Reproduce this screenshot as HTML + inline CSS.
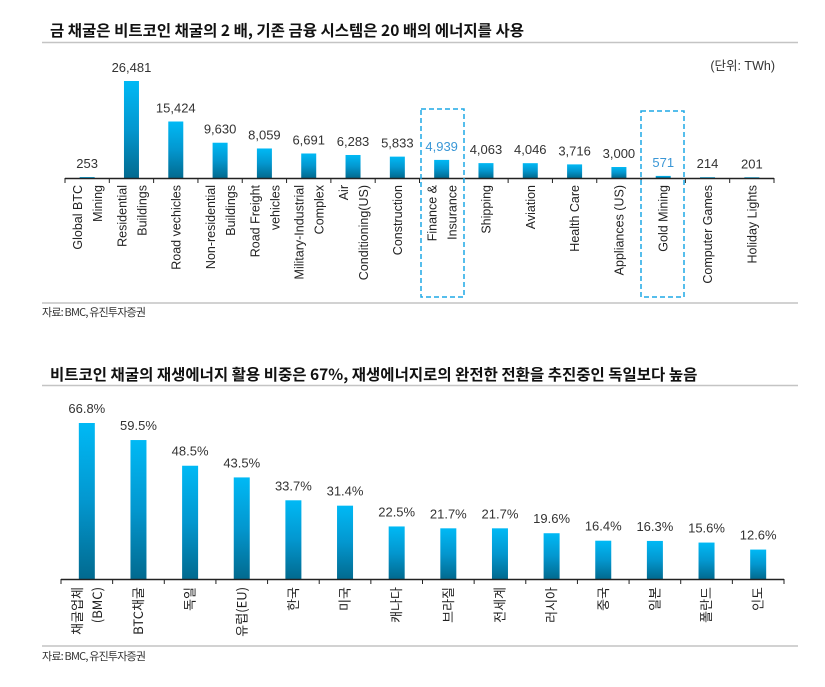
<!DOCTYPE html>
<html><head><meta charset="utf-8">
<style>
html,body{margin:0;padding:0;background:#fff;}
svg{display:block;font-family:"Liberation Sans","Noto Sans CJK KR",sans-serif;}
</style></head>
<body>
<svg id="svg" width="825" height="687" viewBox="0 0 825 687">
<defs>
<linearGradient id="bg" x1="0" y1="0" x2="0" y2="1">
<stop offset="0" stop-color="#00b9f5"/><stop offset="0.5" stop-color="#0397cf"/><stop offset="1" stop-color="#026a8f"/>
</linearGradient>
</defs>
<text x="50" y="36" font-size="15.5" font-weight="bold" fill="#111" font-family="'Noto Sans CJK KR',sans-serif">금 채굴은 비트코인 채굴의 2 배, 기존 금융 시스템은 20 배의 에너지를 사용</text>
<line x1="42" y1="42.5" x2="798" y2="42.5" stroke="#c4c4c4" stroke-width="1.5"/>
<text x="775" y="70" font-size="12.5" fill="#333" text-anchor="end">(단위: TWh)</text>
<g id="c1"></g>
<line x1="42" y1="303" x2="798" y2="303" stroke="#c4c4c4" stroke-width="1.5"/>
<text x="42" y="316" font-size="11" fill="#333" letter-spacing="-0.8" font-family="'Noto Sans CJK KR',sans-serif">자료: BMC, 유진투자증권</text>

<text x="50" y="380" font-size="15.5" font-weight="bold" fill="#111" font-family="'Noto Sans CJK KR',sans-serif">비트코인 채굴의 재생에너지 활용 비중은 67%, 재생에너지로의 완전한 전환을 추진중인 독일보다 높음</text>
<line x1="42" y1="385.5" x2="798" y2="385.5" stroke="#c4c4c4" stroke-width="1.5"/>
<g id="c2"></g>
<line x1="42" y1="646" x2="798" y2="646" stroke="#c4c4c4" stroke-width="1.5"/>
<text x="42" y="660" font-size="11" fill="#333" letter-spacing="-0.8" font-family="'Noto Sans CJK KR',sans-serif">자료: BMC, 유진투자증권</text>
</svg>
<script>
const cats1 = [["Global BTC","Mining"],["Residential","Buildings"],["Road vechicles"],["Non-residential","Buildings"],["Road Freight","vehicles"],["Military-Industrial","Complex"],["Air","Conditioning(US)"],["Construction"],["Finance &","Insurance"],["Shipping"],["Aviation"],["Health Care"],["Appliances (US)"],["Gold Mining"],["Computer Games"],["Holiday Lights"]];
const vals1 = [253,26481,15424,9630,8059,6691,6283,5833,4939,4063,4046,3716,3000,571,214,201];
const labels1 = ["253","26,481","15,424","9,630","8,059","6,691","6,283","5,833","4,939","4,063","4,046","3,716","3,000","571","214","201"];
const highlight1 = [8,13];

const cats2 = [["채굴업체","(BMC)"],["BTC채굴"],["독일"],["유럽(EU)"],["한국"],["미국"],["캐나다"],["브라질"],["전세계"],["러시아"],["중국"],["일본"],["폴란드"],["인도"]];
const vals2 = [66.8,59.5,48.5,43.5,33.7,31.4,22.5,21.7,21.7,19.6,16.4,16.3,15.6,12.6];
const labels2 = ["66.8%","59.5%","48.5%","43.5%","33.7%","31.4%","22.5%","21.7%","21.7%","19.6%","16.4%","16.3%","15.6%","12.6%"];

const NS="http://www.w3.org/2000/svg";
function mk(tag,attrs,parent){const e=document.createElementNS(NS,tag);for(const k in attrs)e.setAttribute(k,attrs[k]);parent.appendChild(e);return e;}

function draw(gid,cats,vals,labels,cfg){
  const g=document.getElementById(gid);
  const n=cats.length, step=(cfg.x1-cfg.x0)/n;
  const xs=i=>cfg.x0+step*(i+0.5);
  const ys=v=>cfg.base-v*cfg.k;
  vals.forEach((v,i)=>{
    const r=mk('rect',{x:xs(i)-cfg.bw/2,y:ys(v),width:cfg.bw,height:cfg.base-ys(v),fill:'url(#bg)'},g);
    
    
    const hl=cfg.hl&&cfg.hl.includes(i);
    const t=mk('text',{x:xs(i),y:ys(v)-cfg.lg,'font-size':cfg.fs,'text-anchor':'middle',fill:hl?'#3a97d6':'#333'},g);
    t.textContent=labels[i];
    
    
  });
  const ax=mk('line',{x1:cfg.x0,y1:cfg.base+0.5,x2:cfg.x1,y2:cfg.base+0.5,stroke:'#222','stroke-width':1.5},g);
  
  
  for(let i=0;i<=n;i++){
    const tk=mk('line',{x1:cfg.x0+step*i,y1:cfg.base,x2:cfg.x0+step*i,y2:cfg.base+5,stroke:'#222','stroke-width':1},g);
    
    
  }
  cats.forEach((c,i)=>{
    const t=mk('text',{transform:'translate('+xs(i)+','+cfg.lt+') rotate(-90)','font-size':cfg.cfs,'text-anchor':'end',fill:'#222','font-family':cfg.cff},g);
    
    
    const offs=c.length===1?[4.5]:[-5,15];
    c.forEach((line,j)=>{const s=mk('tspan',{x:0,y:offs[j]},t);s.textContent=line;});
  });
}
draw('c1',cats1,vals1,labels1,{x0:65,x1:774,base:178,k:97/26481,bw:15,lg:9,fs:13,cfs:12.5,lt:185,hl:highlight1,cff:"'Liberation Sans',sans-serif"});
draw('c2',cats2,vals2,labels2,{x0:61,x1:784,base:579,k:156/66.8,bw:16,lg:10,fs:13,cfs:13,lt:587,cff:"'Noto Sans CJK KR',sans-serif"});

const svg=document.getElementById('svg');
[[421,109,43,188,'finance-highlight-box'],[641,111,43,186,'gold-highlight-box']].forEach(b=>{
  const r=mk('rect',{x:b[0],y:b[1],width:b[2],height:b[3],fill:'none',stroke:'#1ea8e6','stroke-width':1.5,'stroke-dasharray':'5,3'},svg);
  
  
});
</script>
</body></html>
